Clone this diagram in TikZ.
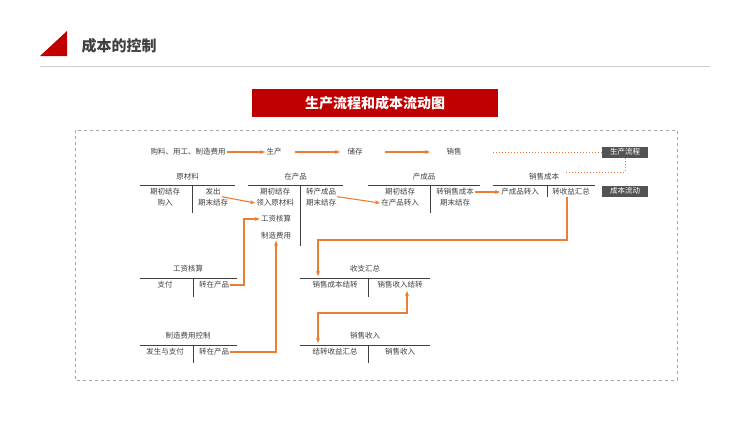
\documentclass[tikz,border=0pt]{standalone}
\usepackage{fontspec}
\setmainfont{Noto Sans CJK SC}
\usetikzlibrary{arrows.meta}
\definecolor{og}{HTML}{ED7D31}
\definecolor{rd}{HTML}{C00000}
\definecolor{tx}{HTML}{404040}
\begin{document}
\begin{tikzpicture}[x=1pt,y=-1pt,
 t/.style={font=\fontsize{7.5}{8}\selectfont,text=tx,inner sep=1pt},
 tl/.style={draw=tx,line width=0.8pt},
 oa/.style={draw=og,line width=1.1pt,-{Stealth[length=5pt,width=4pt]}},
 tag/.style={fill=tx!90,text=white,font=\fontsize{7.5}{8}\selectfont,minimum width=46pt,minimum height=11pt,inner sep=1pt}]
\useasboundingbox (0,0) rectangle (750,421);
\fill[rd] (40,56) -- (67,56) -- (67,31) -- cycle;
\node[anchor=west,font=\fontsize{15}{16}\selectfont\bfseries,text=tx] (title) at (78,46) {成本的控制};
\draw[gray!40] (40,66) -- (710,66);
\node[fill=rd,text=white,font=\fontsize{14}{15}\selectfont\bfseries,minimum width=246pt,minimum height=28pt] (ban) at (375,103) {生产流程和成本流动图};
\draw[gray!70,dashed] (75,130) rectangle (677,380);
% row 1
\node[t] (buy) at (188,152) {购料、用工、制造费用};
\node[t] (sc) at (274,152) {生产};
\node[t] (cc) at (355,152) {储存};
\node[t] (xs) at (454,152) {销售};
\node[tag] (lc) at (625,152) {生产流程};
\node[tag] (cl) at (625,191) {成本流动};
\draw[oa] (buy) -- (sc);
\draw[oa] (295,152) -- (340,152);
\draw[oa] (385,152) -- (430,152);
\draw[og,dotted,line width=1pt] (493,152) -- (lc.west);
% T accounts
\newcommand{\tacc}[6]{% name, title, x1, x2, xv, ybot
 \node[t] (#1) at ({(#3+#4)/2},177) {#2};
 \draw[tl] (#3,185) -- (#4,185); \draw[tl] (#5,185) -- (#5,#6);}
\tacc{ycl}{原材料}{140}{235}{192}{213}
\tacc{zcp}{在产品}{248}{343}{300}{246}
\tacc{ccp}{产成品}{368}{480}{430}{213}
\tacc{xscb}{销售成本}{493}{595}{547}{197}
\coordinate (dc) at (565,172);
\draw[og,dotted,line width=1pt] (lc.south) -- (625,172) -- (dc);
\node[t] (a1) at (165,192) {期初结存}; \node[t] (a2) at (165,203) {购入};
\node[t] (a3) at (213,192) {发出}; \node[t] (a4) at (213,203) {期末结存};
\node[t] (b1) at (275,192) {期初结存}; \node[t] (b2) at (275,203) {领入原材料};
\node[t] (b3) at (276,219) {工资核算}; \node[t] (b4) at (276,236) {制造费用};
\node[t] (b5) at (321,192) {转产成品}; \node[t] (b6) at (321,203) {期末结存};
\node[t] (c1) at (400,192) {期初结存}; \node[t] (c2) at (400,203) {在产品转入};
\node[t] (c3) at (455,192) {转销售成本}; \node[t] (c4) at (455,203) {期末结存};
\node[t] (d1) at (520,192) {产成品转入}; \node[t] (d2) at (571,192) {转收益汇总};
% lower
\node[t] (gz) at (188,269) {工资核算}; \draw[tl] (140,278) -- (237,278); \draw[tl] (193,278) -- (193,297);
\node[t] (e1) at (165,285) {支付}; \node[t] (e2) at (214,285) {转在产品};
\node[t] (zz) at (188,336) {制造费用控制}; \draw[tl] (140,345) -- (237,345); \draw[tl] (193,345) -- (193,363);
\node[t] (f1) at (165,352) {发生与支付}; \node[t] (f2) at (214,352) {转在产品};
\node[t] (sz) at (365,269) {收支汇总}; \draw[tl] (300,278) -- (430,278); \draw[tl] (368,278) -- (368,297);
\node[t] (g1) at (335,285) {销售成本结转}; \node[t] (g2) at (400,285) {销售收入结转};
\node[t] (sr) at (365,336) {销售收入}; \draw[tl] (300,345) -- (430,345); \draw[tl] (368,345) -- (368,363);
\node[t] (h1) at (335,352) {结转收益汇总}; \node[t] (h2) at (400,352) {销售收入};
% arrows
\draw[oa] (a3.south east) -- (b2.west);
\draw[oa] (b5.south east) -- (c2.west);
\draw[oa] (c3.east) -- (d1.west);
\draw[oa] (d2.south -| 567,0) -- (567,240) -- (318,240) -- (318,276);
\draw[oa] (e2.east) -- (244,285) -- (244,219) -- (b3.west);
\draw[oa] (f2.east) -- (276,352) -- (b4.south);
\draw[oa,{Stealth[length=5pt,width=4pt]}-{Stealth[length=5pt,width=4pt]}] (318,343) -- (318,313) -- (407,313) -- (407,291);
\end{tikzpicture}
\end{document}
